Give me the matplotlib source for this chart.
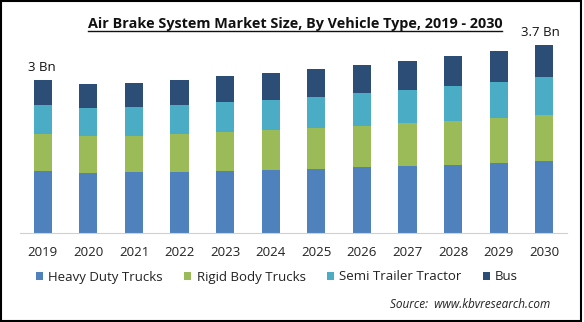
import matplotlib
matplotlib.use('Agg')
import matplotlib.pyplot as plt
from matplotlib.patches import Rectangle
import numpy as np

years = ['2019', '2020', '2021', '2022', '2023', '2024', '2025', '2026', '2027', '2028', '2029', '2030']
heavy_duty = [1.22, 1.18, 1.20, 1.20, 1.22, 1.24, 1.26, 1.29, 1.31, 1.33, 1.37, 1.41]
rigid_body = [0.72, 0.72, 0.71, 0.74, 0.76, 0.78, 0.80, 0.80, 0.84, 0.86, 0.88, 0.90]
semi_trailer = [0.57, 0.56, 0.57, 0.57, 0.59, 0.59, 0.61, 0.65, 0.65, 0.69, 0.71, 0.75]
bus = [0.49, 0.46, 0.47, 0.49, 0.51, 0.53, 0.55, 0.55, 0.57, 0.59, 0.61, 0.63]
series_names = ['Heavy Duty Trucks', 'Rigid Body Trucks', 'Semi Trailer Tractor', 'Bus']
colors = ['#4F81BD', '#9BBB59', '#4BACC6', '#2C4D75']
labels = {0: '3 Bn', 11: '3.7 Bn'}

plt.rcParams['font.family'] = ['Open Sans', 'DejaVu Sans']

W, H = 584, 322
fig = plt.figure(figsize=(W / 100, H / 100), dpi=100)
# axes placed in pixel terms: left 20, right 567, baseline 233, top 29
ax = fig.add_axes([20 / W, (H - 233) / H, (567 - 20) / W, 204 / H])

x = np.arange(len(years))
bottom = np.zeros(len(years))
for name, vals, c in zip(series_names, [heavy_duty, rigid_body, semi_trailer, bus], colors):
    ax.bar(x, vals, 0.4, bottom=bottom, color=c, label=name, zorder=2)
    bottom += np.array(vals)

for i, txt in labels.items():
    ax.annotate(txt, (x[i], bottom[i]), xytext=(-3 if i == 11 else -1, 4), textcoords='offset points',
                ha='center', va='bottom', fontsize=9.5, color='#111111')

ax.set_xlim(-0.5, 11.5)
ax.set_ylim(0, 4)
ax.set_xticks(x)
ax.set_xticklabels(years, fontsize=9.5, color='#222222')
ax.tick_params(axis='x', length=0, pad=9)
ax.set_yticks([])
for s in ['top', 'right', 'left']:
    ax.spines[s].set_visible(False)
ax.spines['bottom'].set_color('#d0d0d0')

title = fig.text(295 / W, 1 - 24 / H, 'Air Brake System Market Size, By Vehicle Type, 2019 - 2030',
                 ha='center', va='center', fontsize=10.4, fontweight='bold', color='#111111')
# underline the title across its drawn width
fig.canvas.draw()
bb = title.get_window_extent().transformed(fig.transFigure.inverted())
fig.add_artist(plt.Line2D([bb.x0, bb.x1], [1 - 31 / H, 1 - 31 / H], color='#111111', lw=1))

leg = fig.legend(loc='center', bbox_to_anchor=(277 / W, 1 - 277 / H), ncol=4, frameon=False,
                 fontsize=9.5, handlelength=0.55, handleheight=0.55, handletextpad=0.4, columnspacing=1.6)
for t in leg.get_texts():
    t.set_color('#222222')

fig.text(550 / W, 1 - 304 / H, 'Source:  www.kbvresearch.com', ha='right', va='center',
         fontsize=8.5, style='italic', color='#222222')

fig.add_artist(Rectangle((1 / W, 1 / H), 580 / W, 320 / H, transform=fig.transFigure,
                         fill=False, edgecolor='black', lw=1.5))

fig.savefig('out.png', dpi=100)
